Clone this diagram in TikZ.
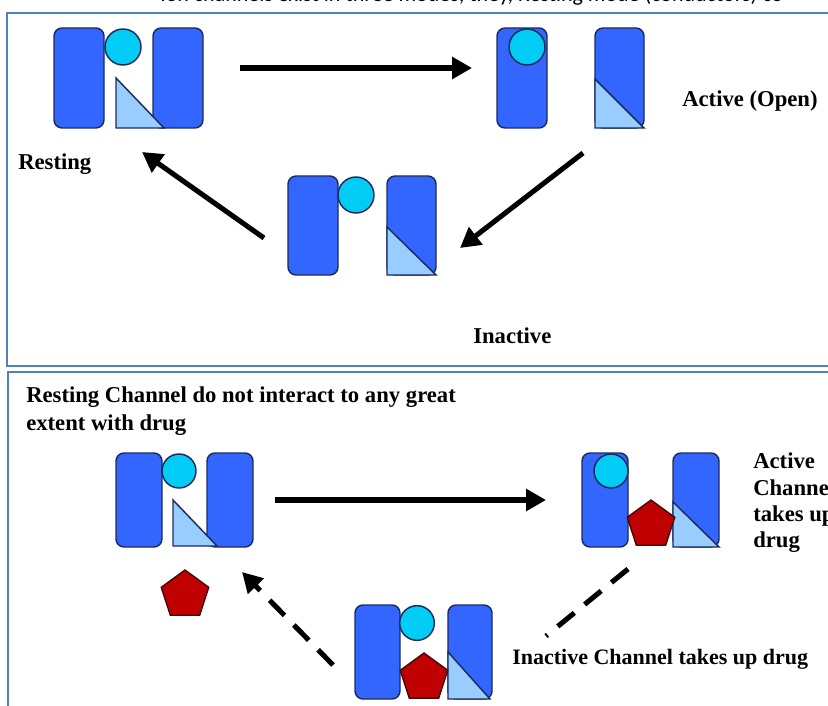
\documentclass[tikz,border=0pt]{standalone}
\usepackage{fontspec}
\setmainfont{Liberation Serif}
\newfontfamily\captionfont{Carlito}
\usetikzlibrary{arrows.meta,shapes.geometric}

\definecolor{chanblue}{HTML}{3366FF}
\definecolor{chanedge}{HTML}{1C2B5E}
\definecolor{gateball}{HTML}{00CCF5}
\definecolor{gatewedge}{HTML}{99CCFF}
\definecolor{drugred}{HTML}{C00000}
\definecolor{drugedge}{HTML}{3A0A0A}
\definecolor{panelline}{HTML}{4F81BD}

\tikzset{
  block/.style={fill=chanblue, draw=chanedge, line width=1.1pt, rounded corners=6pt},
  ball/.style={fill=gateball, draw=chanedge, line width=1.1pt},
  wedge/.style={fill=gatewedge, draw=chanedge, line width=1.1pt, line join=miter},
  drug/.style={regular polygon, regular polygon sides=5, fill=drugred, draw=drugedge,
               line width=1pt, inner sep=0pt, minimum size=37.5pt},
  panel/.style={draw=panelline, line width=1.9pt},
  flow/.style={line width=3.8pt, -{Triangle[length=15pt,width=16pt]}},
  dashflow/.style={line width=3.8pt, dash pattern=on 16pt off 10pt},
  label/.style={font=\bfseries\fontsize{17}{20}\selectfont, anchor=base west, inner sep=0pt},
}

\begin{document}
\begin{tikzpicture}[x=0.75pt, y=-0.75pt]
  \useasboundingbox (0,0) rectangle (828,706);
  \clip (0,0) rectangle (828,706);

  % heading line running off the top edge
  \node[font=\captionfont\fontsize{16.5}{18}\selectfont, anchor=base west, inner sep=0pt]
    (heading) at (160,2) {Ion channels exist in three modes, they, Resting mode (conductors) co};

  % panel frames
  \draw[panel] (7,13) rectangle (845,366);
  \draw[panel] (8,372) rectangle (845,720);

  % ===== upper panel: the three channel states =====
  % resting
  \coordinate (rest) at (128,78);
  \draw[block] (54,28) rectangle (104,128);
  \draw[block] (153,28) rectangle (203,128);
  \draw[wedge] (116,78) -- (116,128) -- (164,128) -- cycle;
  \draw[ball] (123,47) circle[radius=13.5pt];

  % active (open)
  \coordinate (open) at (570,78);
  \draw[block] (497,28) rectangle (547,128);
  \draw[block] (595,28) rectangle (644,128);
  \draw[wedge] (595,79) -- (595,128) -- (644,128) -- cycle;
  \draw[ball] (527,47) circle[radius=13.5pt];

  % inactive
  \coordinate (shut) at (362,226);
  \draw[block] (288,176) rectangle (338,275);
  \draw[block] (387,176) rectangle (436,275);
  \draw[wedge] (387,227) -- (387,275) -- (436,275) -- cycle;
  \draw[ball] (356,195) circle[radius=13.5pt];

  \node[label] (lrest) at (18,170) {Resting};
  \node[label] (lopen) at (682,107) {Active (Open)};
  \node[label] (lshut) at (473,343) {Inactive};

  % transitions
  \coordinate (t1a) at (240,68);  \coordinate (t1b) at (472,68);
  \coordinate (t2a) at (583,153); \coordinate (t2b) at (460,248);
  \coordinate (t3a) at (264,238); \coordinate (t3b) at (142,152);
  \draw[flow] (t1a) -- (t1b);
  \draw[flow] (t2a) -- (t2b);
  \draw[flow] (t3a) -- (t3b);

  % ===== lower panel: drug binding =====
  \node[label] (lnote1) at (26,402) {Resting Channel do not interact to any great};
  \node[label] (lnote2) at (26,430) {extent with drug};

  % resting channel, drug left outside
  \coordinate (rest2) at (185,500);
  \draw[block] (116,453) rectangle (162,547);
  \draw[block] (207,453) rectangle (253,547);
  \draw[wedge] (173,500) -- (173,546) -- (217,546) -- cycle;
  \draw[ball] (179,471) circle[radius=12.75pt];
  \node[drug] (drugfree) at (185,595) {};

  % active channel with drug bound
  \coordinate (open2) at (650,500);
  \draw[block] (582,453) rectangle (628,547);
  \draw[block] (673,453) rectangle (719,547);
  \draw[wedge] (673,502) -- (673,547) -- (719,547) -- cycle;
  \draw[ball] (611,471) circle[radius=12.75pt];
  \node[drug] (drugopen) at (651,525) {};

  % inactive channel with drug bound
  \coordinate (shut2) at (424,652);
  \draw[block] (355,605) rectangle (400,699);
  \draw[block] (448,605) rectangle (492,699);
  \draw[wedge] (448,652) -- (448,699) -- (490,699) -- cycle;
  \draw[ball] (417,623) circle[radius=13pt];
  \node[drug] (drugshut) at (424,678) {};

  \node[label] (la1) at (753,468) {Active};
  \node[label] (la2) at (753,495) {Channel};
  \node[label] (la3) at (753,521) {takes up};
  \node[label] (la4) at (753,547) {drug};
  \node[label, font=\bfseries\fontsize{16.5}{20}\selectfont] (lshut2) at (512,664)
    {Inactive Channel takes up drug};

  % transitions
  \coordinate (b1a) at (275,500); \coordinate (b1b) at (546,500);
  \coordinate (b2a) at (628,569); \coordinate (b2b) at (546,636);
  \coordinate (b3a) at (333,665); \coordinate (b3b) at (242,572);
  \draw[flow] (b1a) -- (b1b);
  \draw[dashflow] (b2a) -- (b2b);
  \draw[dashflow, -{Triangle[length=15pt,width=16pt]}] (b3a) -- (b3b);
\end{tikzpicture}
\end{document}
